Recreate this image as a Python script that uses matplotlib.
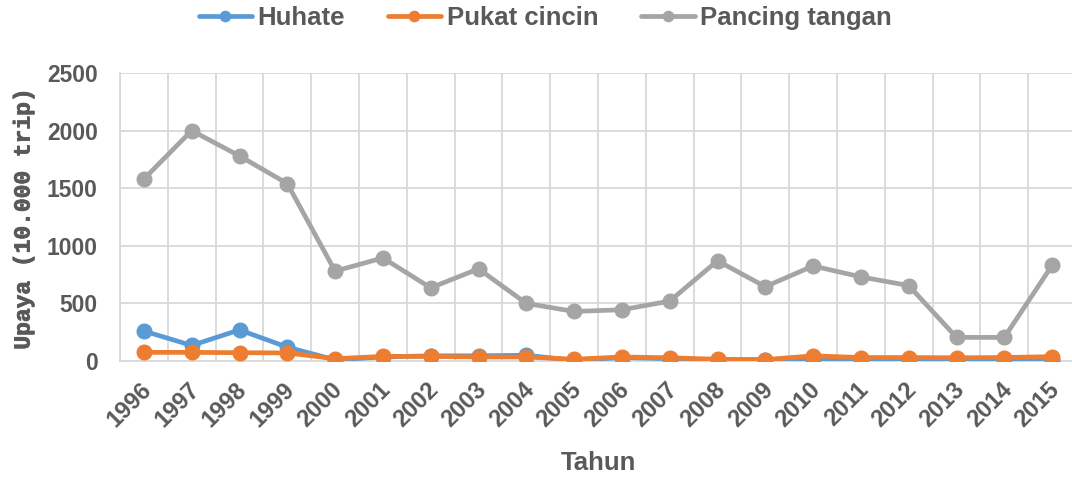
import matplotlib
matplotlib.use("Agg")
import matplotlib.pyplot as plt
import matplotlib.patheffects as pe
from matplotlib.ticker import FixedLocator
import numpy as np

years = list(range(1996, 2016))
huhate = [260, 135, 270, 120, 10, 35, 45, 45, 50, 5, 30, 20, 10, 10, 8, 8, 8, 8, 10, 10]
pukat_cincin = [75, 75, 72, 70, 20, 40, 40, 35, 35, 15, 35, 28, 15, 12, 45, 30, 30, 28, 30, 38]
pancing_tangan = [1580, 2000, 1780, 1540, 780, 895, 635, 800, 500, 430, 445, 520, 870, 645, 825, 730, 655, 205, 205, 830]

series_names = ["Huhate", "Pukat cincin", "Pancing tangan"]
colors = ["#5B9BD5", "#ED7D31", "#A5A5A5"]
yticks = [0, 500, 1000, 1500, 2000, 2500]

W, H = 1072, 479
fig = plt.figure(figsize=(W / 100, H / 100), dpi=100)
ax = fig.add_axes([120 / W, 1 - 361 / H, 956 / W, (361 - 73) / H])

tick_color = "#595959"
grid_color = "#D9D9D9"

for vals, name, c in zip([huhate, pukat_cincin, pancing_tangan], series_names, colors):
    ax.plot(years, vals, color=c, lw=3.4, marker="o", ms=10.5, label=name,
            solid_capstyle="round", solid_joinstyle="round", zorder=3)

ax.set_xlim(1995.5, 2015.5)
ax.set_ylim(0, 2500)
ax.set_yticks(yticks)
ax.set_xticks(years)
ax.xaxis.set_minor_locator(FixedLocator(np.arange(1995.5, 2016, 1)))
ax.grid(False)
ax.grid(True, which="minor", axis="x", color=grid_color, lw=1.3, zorder=0)
ax.grid(True, which="major", axis="y", color=grid_color, lw=1.3, zorder=0)
ax.tick_params(which="both", length=0)
ax.tick_params(axis="y", pad=16)
ax.tick_params(axis="x", pad=12)

for s in ["top", "right"]:
    ax.spines[s].set_visible(False)
for s in ["left", "bottom"]:
    ax.spines[s].set_color(grid_color)
    ax.spines[s].set_linewidth(1.3)

tick_font = dict(family="Liberation Sans", weight="bold", size=16.5)
ax.set_yticklabels([str(v) for v in yticks], color=tick_color, fontdict=tick_font)
ax.set_xticklabels([str(y) for y in years], color=tick_color,
                   fontdict=dict(family="Liberation Sans", weight="bold", size=17),
                   rotation=45, ha="right", va="top", rotation_mode="anchor")
for lbl in ax.get_xticklabels():
    lbl.set_transform(lbl.get_transform() + matplotlib.transforms.ScaledTranslation(-3 / 72, 0, fig.dpi_scale_trans))

fig.text(598 / W, 1 - 463 / H, "Tahun", ha="center", va="center", color=tick_color,
         family="Liberation Sans", weight="bold", size=18.5)
fig.text(23 / W, 1 - 219 / H, "Upaya (10.000 trip)", rotation=90, ha="center", va="center",
         color=tick_color, family="Liberation Mono", weight="bold", size=16.5,
         path_effects=[pe.withStroke(linewidth=0.6, foreground=tick_color)])

leg = fig.legend(loc="center", bbox_to_anchor=(545 / W, 1 - 18 / H), ncol=3, frameon=False,
                 prop=dict(family="Liberation Sans", weight="bold", size=18.5),
                 handlelength=2.1, handletextpad=0.2, columnspacing=1.65, markerscale=0.7)
for t in leg.get_texts():
    t.set_color(tick_color)

fig.savefig("out.png", dpi=100)
